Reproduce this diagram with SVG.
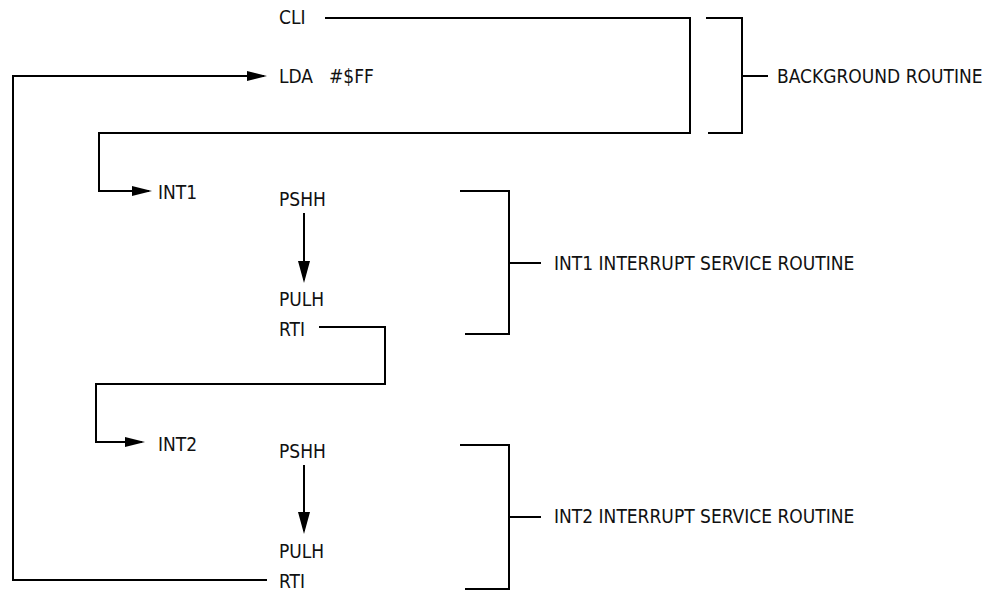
<svg xmlns="http://www.w3.org/2000/svg" width="995" height="591" viewBox="0 0 995 591">
<style>
  text { font-family: "DejaVu Sans Condensed", "Liberation Sans Narrow", "Liberation Sans", sans-serif; font-stretch: condensed; font-size: 19px; fill: #111; }
  .ln { fill: none; stroke: #000; stroke-width: 2; }
</style>
<defs>
  <marker id="ah" markerUnits="userSpaceOnUse" markerWidth="20" markerHeight="10" refX="17" refY="5" orient="auto">
    <path d="M0,0 L20,5 L0,10 Z" fill="#000"/>
  </marker>
  <marker id="av" markerUnits="userSpaceOnUse" markerWidth="22" markerHeight="12" refX="19" refY="6" orient="auto">
    <path d="M0,0 L22,6 L0,12 Z" fill="#000"/>
  </marker>
</defs>
<rect width="995" height="591" fill="#fff"/>

<g id="connectors">
  <path class="ln" d="M325,18 H690 V133 H99 V191 H149" marker-end="url(#ah)"/>
  <path class="ln" d="M319,327 H385 V384 H96 V442 H142" marker-end="url(#ah)"/>
  <path class="ln" d="M267,580 H13 V76 H264" marker-end="url(#ah)"/>
  <path class="ln" d="M304,213 V280" marker-end="url(#av)"/>
  <path class="ln" d="M304,465 V531" marker-end="url(#av)"/>
</g>

<g id="bracket-background">
  <path class="ln" d="M706,18 H742 V133 H708 M742,76 H768"/>
  <text x="777" y="83">BACKGROUND ROUTINE</text>
</g>
<g id="bracket-int1">
  <path class="ln" d="M460,191 H509 V334 H465 M509,263 H541"/>
  <text x="554" y="270">INT1 INTERRUPT SERVICE ROUTINE</text>
</g>
<g id="bracket-int2">
  <path class="ln" d="M460,445 H509 V589 H465 M509,517 H541"/>
  <text x="554" y="523">INT2 INTERRUPT SERVICE ROUTINE</text>
</g>

<g id="cli"><text x="279" y="24">CLI</text></g>
<g id="lda"><text x="279" y="83">LDA<tspan x="329">#$FF</tspan></text></g>
<g id="int1"><text x="158" y="199">INT1</text></g>
<g id="pshh1"><text x="279" y="206">PSHH</text></g>
<g id="pulh1"><text x="279" y="306">PULH</text></g>
<g id="rti1"><text x="279" y="336">RTI</text></g>
<g id="int2"><text x="158" y="451">INT2</text></g>
<g id="pshh2"><text x="279" y="458">PSHH</text></g>
<g id="pulh2"><text x="279" y="558">PULH</text></g>
<g id="rti2"><text x="279" y="588">RTI</text></g>
</svg>
